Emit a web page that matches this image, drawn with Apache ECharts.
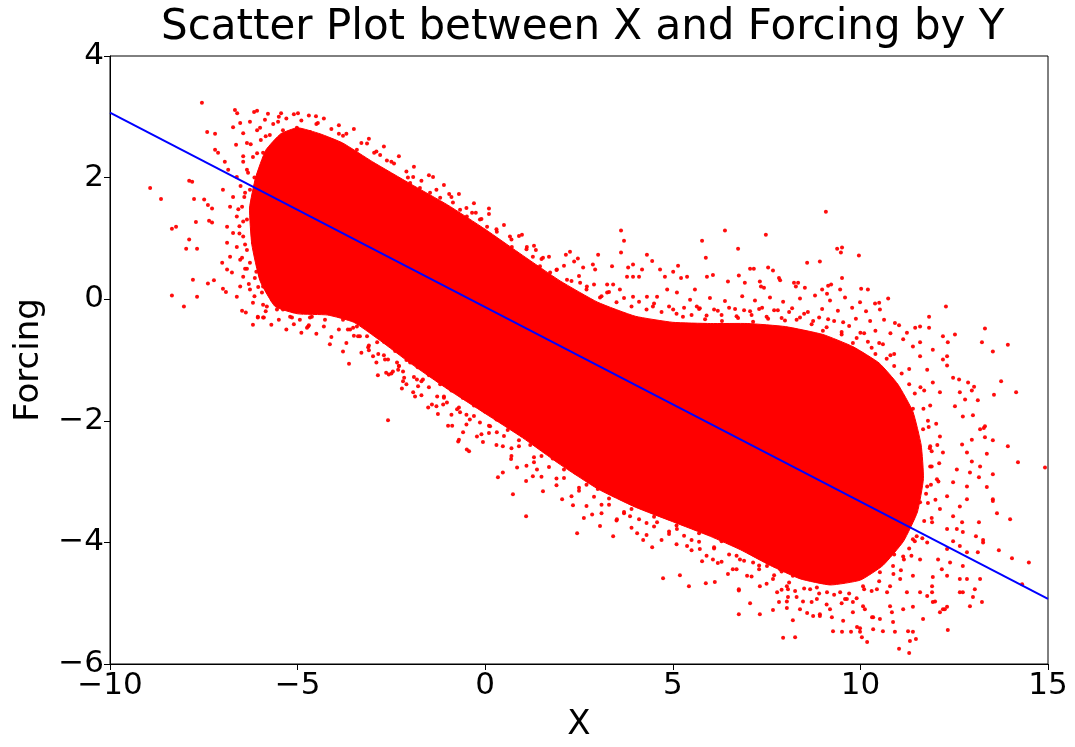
<!DOCTYPE html>
<html>
<head>
<meta charset="utf-8">
<script src="https://cdn.jsdelivr.net/npm/echarts@6/dist/echarts.min.js"></script>
<style>
  html, body { margin: 0; padding: 0; background: #fff; }
  #chart { width: 1075px; height: 747px; }
</style>
</head>
<body>
<div id="chart"></div>
<script>
// Axis ticks
const xTicks = [-10, -5, 0, 5, 10, 15];
const yTicks = [-6, -4, -2, 0, 2, 4];

// Outline of the solid, fully saturated part of the point cloud [X, Forcing]
const coreOutline = [
  [-5.60, -0.12], [-6.00, 0.30], [-6.22, 0.90], [-6.28, 1.50], [-6.12, 2.00], [-5.85, 2.45],
  [-5.45, 2.72], [-5.00, 2.82], [-4.40, 2.72], [-3.80, 2.57], [-3.00, 2.26], [-2.00, 1.90], [-1.00, 1.55],
  [0.00, 1.15], [1.00, 0.72], [2.00, 0.30], [3.00, -0.05], [4.00, -0.28], [5.00, -0.38],
  [6.00, -0.40], [7.00, -0.40], [8.00, -0.45], [9.00, -0.58], [9.80, -0.78], [10.50, -1.05],
  [11.00, -1.40], [11.40, -1.85], [11.62, -2.40], [11.68, -2.95], [11.52, -3.50], [11.15, -3.98],
  [10.60, -4.38], [10.00, -4.62], [9.20, -4.70], [8.40, -4.60], [7.60, -4.38], [6.80, -4.12],
  [6.00, -3.90], [5.00, -3.66], [4.00, -3.42], [3.00, -3.12], [2.00, -2.72], [1.00, -2.28],
  [0.00, -1.88], [-1.00, -1.48], [-2.00, -1.05], [-2.80, -0.68], [-3.50, -0.38], [-4.20, -0.26],
  [-5.00, -0.24]
];

// Points crowding the edge of the solid region
const pointsEdge = [
  [-5.3,2.97],[-5.1,3.04],[-4.9,2.94],[-4.7,3.02],[-4.5,2.88],[-4.3,2.97],[-4.1,2.80],[-3.9,2.86],[-3.7,2.72],[-3.5,2.80],
  [-3.3,2.57],[-3.1,2.64],[-2.9,2.43],[-2.7,2.51],[-2.5,2.26],[-2.3,2.35],[-2.1,2.10],[-1.9,2.18],[-1.7,1.95],[-1.5,2.04],
  [-1.3,1.80],[-1.1,1.88],[-0.9,1.68],[-0.7,1.73],[-0.5,1.50],[-0.3,1.58],[-0.1,1.32],[0.1,1.40],[0.3,1.15],[0.5,1.22],
  [0.7,0.98],[0.9,1.04],[1.1,0.82],[1.3,0.88],[1.5,0.66],[1.7,0.70],[1.9,0.48],[2.1,0.55],[2.3,0.30],[2.5,0.38],
  [2.7,0.16],[2.9,0.24],[3.1,0.05],[3.3,0.12],[3.5,-0.05],[3.7,0.02],[3.9,-0.12],[4.1,-0.04],[4.3,-0.17],[4.5,-0.07],
  [4.7,-0.21],[4.9,-0.12],[5.1,-0.24],[5.3,-0.14],[5.5,-0.26],[5.7,-0.16],[5.9,-0.27],[6.1,-0.17],[6.3,-0.26],[6.5,-0.14],
  [6.7,-0.28],[6.9,-0.18],[7.1,-0.26],[7.3,-0.16],[7.5,-0.29],[7.7,-0.18],[7.9,-0.31],[8.1,-0.21],[8.3,-0.34],[8.5,-0.24],
  [8.7,-0.41],[8.9,-0.30],[9.1,-0.46],[9.3,-0.36],[9.5,-0.54],[9.7,-0.44],[9.9,-0.64],[10.1,-0.56],[10.3,-0.80],[10.5,-0.72],
  [10.7,-0.98],[10.9,-0.90],[11.1,-1.22],[11.3,-1.15],[11.45,-1.55],[11.6,-1.45],
  [11.68,-1.80],[11.86,-1.75],[11.82,-2.10],[12.02,-2.05],[11.85,-2.45],[12.05,-2.40],[11.90,-2.75],[12.10,-2.70],
  [11.88,-3.05],[12.08,-3.00],[11.80,-3.35],[12.00,-3.30],[11.70,-3.65],[11.90,-3.60],[11.45,-3.98],[11.65,-3.93],
  [11.16,-4.28],[11.36,-4.22],[10.88,-4.52],[11.08,-4.46],
  [10.5,-4.64],[10.3,-4.80],[10.1,-4.77],[9.9,-4.92],[9.7,-4.84],[9.5,-5.00],[9.3,-4.86],[9.1,-5.02],[8.9,-4.84],[8.7,-4.98],
  [8.5,-4.76],[8.3,-4.90],[8.1,-4.66],[7.9,-4.78],[7.7,-4.54],[7.5,-4.68],[7.3,-4.44],[7.1,-4.56],[6.9,-4.30],[6.7,-4.44],
  [6.5,-4.20],[6.3,-4.32],[6.1,-4.08],[5.9,-4.22],[5.7,-3.99],[5.5,-4.13],[5.3,-3.89],[5.1,-4.03],[4.9,-3.82],[4.7,-3.96],
  [4.5,-3.74],[4.3,-3.88],[4.1,-3.62],[3.9,-3.76],[3.7,-3.50],[3.5,-3.64],[3.3,-3.38],[3.1,-3.52],[2.9,-3.25],[2.7,-3.40],
  [2.5,-3.10],[2.3,-3.24],[2.1,-2.94],[1.9,-3.06],[1.7,-2.76],[1.5,-2.92],[1.3,-2.60],[1.1,-2.74],[0.9,-2.42],[0.7,-2.58],
  [0.5,-2.25],[0.3,-2.40],[0.1,-2.08],[-0.1,-2.22],[-0.3,-1.92],[-0.5,-2.06],[-0.7,-1.78],[-0.9,-1.90],[-1.1,-1.62],[-1.3,-1.76],
  [-1.5,-1.45],[-1.7,-1.58],[-1.9,-1.28],[-2.1,-1.40],[-2.3,-1.10],[-2.5,-1.22],[-2.7,-0.92],[-2.9,-1.04],[-3.1,-0.76],[-3.3,-0.88],
  [-3.5,-0.60],[-3.7,-0.72],[-3.9,-0.50],[-4.1,-0.62],[-4.3,-0.45],[-4.5,-0.57],[-4.7,-0.43],[-4.9,-0.55],[-5.1,-0.41],[-5.3,-0.50],
  [-5.5,-0.34],[-5.7,-0.42],[-5.85,-0.20],
  [-6.15,0.05],[-6.30,0.25],[-6.35,0.50],[-6.48,0.68],[-6.40,0.90],[-6.55,1.08],[-6.45,1.28],[-6.58,1.48],[-6.42,1.68],
  [-6.52,1.86],[-6.32,2.08],[-6.45,2.26],[-6.08,2.40],[-6.25,2.55],[-5.85,2.68],[-6.00,2.82],[-5.65,2.88],[-5.50,3.00]
];

// Sparse points further out, grouped by area
const pointsLeft = [
  [-7.55,3.23],[-8.93,1.83],[-8.64,1.65],[-8.35,1.16],[-8.24,1.19],[-7.89,1.95],[-7.81,1.93],[-7.89,0.98],
  [-7.97,0.83],[-7.68,0.83],[-7.79,0.32],[-7.68,0.04],[-8.35,0.06],[-8.03,-0.12],[-7.41,2.75],[-7.20,2.72],
  [-7.20,2.46],[-7.12,2.41],[-7.76,1.65],[-7.49,1.64],[-7.39,1.55],[-7.28,1.49],[-7.71,1.27],[-7.36,1.29],
  [-7.28,1.26],[-7.39,0.26],[-7.23,0.31],[-7.01,0.60],[-6.88,0.49],[-6.99,0.17],[-6.91,0.12],[-6.62,0.04],
  [-6.48,-0.19],[-6.38,-0.22],[-6.19,-0.42],[-6.06,-0.30],[-5.90,-0.30],[-5.60,-0.02],[-5.39,-0.17],[-5.15,-0.30],
  [-4.67,-0.30],[-4.75,-0.47],[-4.14,-0.74],[-4.48,-0.17],[-4.22,-0.20],[-3.66,-0.50],[-3.39,-0.61],
  [-6.67,3.11],[-6.61,3.06],[-6.16,3.08],[-6.08,3.10],[-5.79,3.05],[-5.44,3.06],[-4.99,3.06],[-4.51,3.01],
  [-4.46,2.90],[-3.90,2.72],[-3.79,2.69],[-3.15,2.56],[-2.96,2.41],[-2.62,2.28],[-2.43,2.23],[-2.06,2.00],
  [-6.72,2.83],[-6.53,2.90],[-6.27,2.92],[-5.87,2.95],[-5.52,2.92],[-6.08,2.78],[-6.45,2.73],[-6.35,2.57],
  [-6.64,2.54],[-5.98,2.62],[-5.74,2.70],[-5.39,2.78],[-5.02,2.82],[-4.67,2.75],[-4.32,2.62],[-3.42,2.46],
  [-2.80,2.37],[-6.94,2.26],[-6.85,2.13],[-6.62,2.01],[-6.35,2.13],[-6.19,2.34],[-5.92,2.41],[-6.27,1.80],
  [-6.00,1.91],[-6.99,1.80],[-6.72,1.68],[-6.80,1.52],[-6.48,1.52],[-6.19,1.59],[-6.62,1.36],[-6.35,1.31],
  [-6.08,1.36],[-5.92,1.14],[-6.88,1.19],[-6.72,1.09],[-6.45,1.03],[-6.19,0.93],[-6.88,0.93],[-6.62,0.86],
  [-6.35,0.81],[-6.00,0.77],[-6.80,0.70],[-6.53,0.65],[-6.27,0.60],[-5.95,0.54],[-6.75,0.44],[-6.45,0.37],
  [-6.14,0.35],[-5.82,0.40],[-6.53,0.21],[-6.27,0.16],[-5.95,0.11],[-5.74,0.16],[-6.19,-0.06],[-5.82,-0.12],
  [-5.55,-0.17],[-5.82,0.86],[-5.82,1.36],[-5.82,1.80],[-5.74,2.08],[-5.74,2.34],[-5.55,2.51],
  [-5.95,1.70],[-6.05,1.05],[-5.70,0.65],[-6.10,0.45],[-5.90,1.55],[-6.15,2.00],[-5.65,1.20],[-5.70,0.30],
  [-6.40,1.75],[-6.55,1.20],[-6.40,0.50],[-6.05,0.20],[-5.85,2.20],[-6.45,2.35]
];

const pointsLowerLeft = [
  [-6.06,-0.29],[-5.92,-0.30],[-5.92,-0.09],[-5.68,-0.01],[-5.55,0.03],[-5.39,-0.12],[-5.20,-0.29],[-5.12,-0.20],
  [-4.94,-0.34],[-4.72,-0.45],[-4.62,-0.29],[-4.27,-0.34],[-3.79,-0.86],[-3.63,-1.06],[-3.60,-0.50],[-3.52,-0.47],
  [-3.34,-0.61],[-3.12,-0.79],[-3.10,-0.84],[-2.99,-0.94],[-2.86,-1.25],[-2.67,-0.99],[-2.59,-0.99],[-2.64,-1.21],
  [-2.57,-1.24],[-2.46,-1.19],[-2.32,-1.16],[-2.19,-1.19],[-2.59,-1.99],[-2.22,-1.47],[-2.16,-1.29],[-2.19,-1.35],
  [-1.92,-1.53],[-1.87,-1.60],[-1.82,-1.32],[-1.79,-1.43],[-1.52,-1.78],[-1.42,-1.73],[-1.26,-1.89],[-1.12,-1.73],
  [-0.99,-2.08],[-0.88,-2.08],[-0.72,-2.34],[-0.70,-2.31],[-0.59,-2.19],[-0.49,-2.47],[-0.43,-2.50],[-0.22,-2.26],
  [-0.06,-2.35],[0.34,-2.93],[0.47,-2.85],[0.74,-3.21],[0.69,-2.63],[0.85,-2.77],[1.09,-2.99],[1.09,-3.57],
  [1.27,-2.91],[1.38,-2.80],[1.54,-3.16],[0.13,-2.09],[0.31,-2.19],[0.47,-2.42],[-0.67,-1.86],[-0.41,-1.98],
  [-0.14,-2.03],[-1.28,-1.60],[-1.02,-1.70],[-0.75,-1.81],[-1.66,-1.32],[-2.00,-1.04],[-2.35,-1.04],[-2.88,-0.71],
  [-3.15,-0.61],[-3.42,-0.45],[-3.79,-0.34],[-4.06,-0.22],[-4.48,-0.12],[-4.86,-0.01],[-5.20,0.04],[-5.55,0.16],
  [-5.92,0.21],
  [-3.0,-0.50],[-2.7,-0.70],[-2.4,-0.85],[-2.1,-1.00],[-1.8,-1.12],[-1.5,-1.25],[-1.2,-1.40],[-0.9,-1.50],
  [-0.6,-1.62],[-0.3,-1.75],[0.0,-1.85],[0.3,-1.98],[0.6,-2.05],[-2.85,-0.90],[-2.3,-1.10],[-1.7,-1.35],
  [-1.1,-1.60],[-0.5,-1.90],[0.1,-2.20]
];

const pointsLower = [
  [2.45,-3.85],[3.41,-3.90],[4.05,-3.85],[4.21,-3.96],[4.45,-4.08],[4.74,-4.59],[5.19,-4.54],[5.43,-4.72],
  [5.88,-4.67],[6.12,-4.65],[6.76,-5.18],[7.06,-5.00],[6.47,-4.52],[6.76,-4.79],[7.94,-5.57],[8.20,-5.28],
  [7.67,-5.11],[8.04,-5.08],[8.07,-4.90],[7.83,-4.98],[5.78,-4.31],[6.20,-4.34],[2.05,-3.29],[2.34,-3.39],
  [2.63,-3.60],[2.85,-3.54],[3.06,-3.73],[3.51,-3.62],[3.86,-3.57],[4.58,-3.67],[5.11,-3.78],[5.38,-4.06],
  [5.72,-4.11],[6.07,-4.28],[6.60,-4.44],[6.98,-4.55],[7.32,-4.72],[7.67,-4.60],[8.04,-4.72],[8.20,-4.55],
  [6.79,-4.28],[7.14,-4.33],[7.51,-4.39],[7.86,-4.44],[8.20,-4.33],[7.32,-5.18],[8.26,-5.56],
  [0.6,-2.15],[0.9,-2.32],[1.2,-2.40],[1.5,-2.58],[1.8,-2.62],[2.1,-2.80],[2.4,-2.85],[2.7,-3.05],
  [3.0,-3.12],[3.3,-3.28],[3.6,-3.25],[3.9,-3.45],[4.2,-3.42],[4.5,-3.58],[4.8,-3.55],[5.1,-3.72],
  [5.4,-3.70],[5.7,-3.85],[6.0,-3.80],[6.3,-3.98],[6.6,-3.95],[6.9,-4.08],[7.2,-4.05],[7.5,-4.22],
  [7.8,-4.30],[0.7,-2.45],[1.3,-2.68],[1.9,-2.95],[2.5,-3.15],[3.1,-3.38],[3.7,-3.52],[4.3,-3.68],
  [4.9,-3.86],[5.5,-3.96],[6.1,-4.10],[6.7,-4.22],[7.3,-4.38],[7.9,-4.48]
];

const pointsLowerRight = [
  [14.92,-2.77],[14.20,-2.68],[13.93,-2.42],[13.32,-2.09],[13.37,-2.54],[13.53,-2.32],[13.99,-3.62],[13.69,-4.13],
  [14.04,-4.26],[14.49,-4.33],[14.31,-4.69],[13.53,-3.29],[13.53,-2.88],[13.27,-3.96],[13.08,-3.90],[13.24,-4.98],
  [12.92,-5.05],[13.05,-4.77],[12.65,-4.82],[12.84,-4.60],[12.33,-5.44],[12.25,-5.10],[12.12,-5.15],[11.30,-5.82],
  [11.03,-5.75],[11.32,-5.62],[11.40,-5.47],[10.60,-5.46],[10.34,-5.43],[9.99,-5.47],[9.91,-5.39],[9.27,-5.46],
  [9.51,-5.47],[6.76,-4.77],[8.07,-4.77],[8.39,-5.10],[8.84,-4.93],[8.92,-5.18],[9.80,-5.15],[10.07,-5.05],
  [10.34,-5.23],[10.84,-5.15],[11.14,-5.10],[11.59,-4.82],[11.91,-4.82],[11.93,-4.98],[12.31,-5.06],[11.24,-4.82],
  [10.71,-4.82],[9.46,-4.82],[9.64,-4.93],[9.11,-4.82],[7.78,-4.82],[8.66,-4.77],
  [13.64,-3.52],[13.53,-3.32],[13.37,-3.09],[13.16,-2.93],[13.19,-2.75],[13.16,-3.67],[13.27,-4.00],[13.13,-4.16],
  [13.19,-4.60],[13.00,-4.90],[12.73,-4.82],[12.65,-4.60],[12.73,-4.39],[12.84,-4.16],[12.65,-4.06],[12.73,-3.83],
  [12.71,-3.67],[12.57,-3.78],[12.39,-4.33],[12.31,-4.55],[12.20,-5.10],[11.99,-4.97],[11.78,-4.88],[11.91,-4.72],
  [11.67,-5.26],[11.48,-5.59],[11.27,-5.46],[10.87,-5.31],[10.92,-5.47],[10.52,-5.26],[10.18,-5.64],[10.04,-5.56],
  [9.99,-5.41],[9.75,-5.47],[9.54,-5.29],[9.24,-5.23],[8.92,-5.21],[8.74,-5.21],[8.58,-5.16],[8.04,-4.97],
  [8.26,-4.80],[8.47,-4.97],[8.84,-4.74],[9.19,-5.10],[9.59,-4.93],[9.80,-4.98],[10.12,-5.10],[10.31,-5.23],
  [10.79,-5.05],[11.40,-5.06],[11.93,-4.57],[12.17,-4.44],[12.07,-4.28],[12.31,-4.11],[12.47,-3.98],[12.31,-3.78],
  [12.47,-3.57],[12.65,-3.41],[12.84,-3.29],[12.84,-3.08],[12.92,-2.85],[12.97,-2.67],[12.84,-2.52],[12.97,-2.31],
  [13.19,-2.14],[12.71,-2.39],[12.57,-2.80],[12.47,-3.01],[12.31,-3.24],[12.12,-3.45],[12.20,-2.52],[12.12,-2.26],
  [12.04,-2.96],[11.91,-3.67],[11.78,-4.00],[11.59,-4.28],[11.40,-4.55],[11.06,-4.60],[10.79,-4.72],[10.44,-4.77],
  [10.07,-4.72],[11.59,-3.34],[11.78,-3.08],[11.86,-2.75],[11.86,-2.42],[11.67,-2.14],[11.51,-2.63],[11.40,-3.01],
  [11.38,-3.62],[11.40,-3.95],[11.14,-4.23],[10.87,-4.39],[10.52,-4.49],[10.18,-4.39],[9.80,-4.55],[9.46,-4.49],
  [9.11,-4.55],[8.74,-4.49],[8.39,-4.55],[8.04,-4.44],
  [11.4,-1.8],[11.5,-2.2],[11.45,-2.6],[11.6,-3.0],[11.35,-3.3],[11.7,-1.5],[11.8,-2.0],[11.9,-2.5],
  [11.75,-3.2],[11.3,-1.4],[11.2,-3.6],[11.0,-3.9],[11.5,-3.9],[10.9,-4.2],[11.3,-4.1]
];

const pointsUpper = [
  [-1.39,2.01],[-0.96,1.73],[0.10,1.49],[-0.35,1.42],[-0.25,1.42],[0.98,1.06],[1.11,0.86],[1.35,0.81],
  [2.15,0.73],[2.26,0.78],[2.37,0.62],[2.47,0.67],[3.01,0.73],[3.62,1.13],[3.70,0.96],[3.62,0.77],
  [4.31,0.73],[4.45,0.63],[2.61,0.52],[2.87,0.57],[2.93,0.49],[3.38,0.54],[3.78,0.37],[3.94,0.37],
  [4.10,0.37],[3.81,0.52],[3.94,0.57],[4.18,0.49],[4.66,0.49],[4.79,0.37],[5.01,0.45],[5.14,0.55],
  [5.22,0.35],[5.38,0.37],[5.59,0.16],[3.25,0.24],[3.41,0.24],[3.59,0.16],[3.25,0.11],[3.06,0.03],
  [2.71,0.21],[2.53,0.27],[2.18,0.32],[1.91,0.49],[1.73,0.44],[1.46,0.54],[1.54,0.68],[1.27,0.70],
  [0.85,0.68],[0.71,0.86],[0.39,0.86],[0.66,1.03],[0.31,1.11],[0.05,1.19],[-0.14,1.31],[-0.49,1.36],
  [-0.67,1.47],[-0.86,1.59],[-1.20,1.67],[-1.47,1.75],[-1.74,1.83],[-2.00,1.91],[-1.92,2.01],[3.94,0.04],
  [4.31,0.04],[4.58,0.04],[4.85,0.16],[5.11,0.11],[5.46,-0.01],[5.64,-0.12],[4.47,-0.12],[5.01,-0.17],
  [5.27,-0.29]
];

const pointsUpperRight = [
  [6.39,1.13],[7.48,1.06],[9.08,1.44],[5.78,0.96],[6.74,0.83],[5.88,0.68],[9.38,0.83],[9.48,0.77],
  [9.51,0.85],[8.58,0.60],[8.92,0.62],[9.96,0.72],[7.06,0.50],[7.16,0.50],[7.54,0.52],[7.67,0.47],
  [7.83,0.35],[7.86,0.31],[9.51,0.35],[6.76,0.39],[6.07,0.40],[5.91,0.37],[6.47,0.29],[6.92,0.27],
  [7.32,0.29],[7.35,0.21],[7.43,0.19],[8.23,0.27],[8.34,0.27],[8.28,0.21],[9.22,0.24],[9.14,0.22],
  [8.98,0.16],[9.11,0.09],[9.46,0.16],[10.02,0.17],[10.20,0.16],[8.52,0.19],[10.39,-0.07],[10.50,-0.06],
  [10.74,0.01],[12.28,-0.12],[11.83,-0.29],[13.32,-0.48],[13.93,-0.75],[13.24,-0.71],[13.53,-0.86],[12.52,-0.58],
  [13.75,-1.35],[14.15,-1.53],[13.56,-1.57],[13.13,-1.66],[13.29,-2.12],[11.59,-0.45],[11.46,-0.47],[11.83,-0.47],
  [11.24,-0.55],[11.03,-0.43],[12.20,-0.61],[12.33,-0.71],[12.31,-0.94],[12.31,-1.09],[12.47,-1.29],[12.63,-1.32],
  [12.87,-1.37],[12.97,-1.50],[13.03,-1.44],[12.79,-1.65],[13.00,-1.91],[13.32,-2.27],[12.52,-1.76],[12.73,-1.93],
  [11.93,-1.37],[12.12,-1.53],[11.78,-1.16],[11.59,-0.94],[11.40,-0.78],[11.14,-0.66],[11.59,-0.71],[11.93,-0.83],
  [12.20,-0.99],[12.65,-1.53],
  [5.99,0.02],[6.39,-0.03],[6.85,0.05],[7.19,-0.02],[7.59,0.03],[7.94,-0.04],[8.39,0.01],[8.79,0.06],
  [9.19,-0.02],[9.59,0.03],[9.99,-0.05],
  [5.72,-0.15],[6.20,-0.19],[6.66,-0.16],[7.06,-0.20],[7.38,-0.14],[7.80,-0.18],[8.18,-0.15],[8.60,-0.21],
  [8.98,-0.16],[9.40,-0.19],[9.78,-0.14],[10.15,-0.20],[10.52,-0.17],
  [5.86,-0.33],[6.31,-0.36],[6.74,-0.31],[7.14,-0.37],[7.54,-0.32],[7.99,-0.35],[8.39,-0.30],[8.74,-0.36],
  [9.14,-0.33],[9.54,-0.38],[9.88,-0.32],[10.26,-0.36],[10.63,-0.34],[10.92,-0.39],
  [5.9,-0.49],[6.5,-0.52],[7.0,-0.48],[7.5,-0.55],[8.0,-0.50],[8.5,-0.54],[9.0,-0.52],[9.5,-0.58],
  [10.0,-0.55],[10.4,-0.52],[10.8,-0.56],[9.8,-0.72],[10.2,-0.70],[10.6,-0.74],[10.4,-0.90],[10.8,-0.92],
  [10.9,-1.10]
];

// Least-squares trend line end points
const trendX = [-10, 15];
const trendY = [3.07, -4.93];

const scatterPoints = [].concat(pointsEdge, pointsLeft, pointsLowerLeft, pointsLower, pointsLowerRight, pointsUpper, pointsUpperRight);

const FONT = 'DejaVu Sans';
const fmt = v => (v < 0 ? '\u2212' + Math.abs(v) : String(v));

const chart = echarts.init(document.getElementById('chart'), null, { renderer: 'canvas' });

chart.setOption({
  backgroundColor: '#ffffff',
  animation: false,
  title: {
    text: 'Scatter Plot between X and Forcing by Y',
    left: 156,
    top: 2,
    textStyle: { fontFamily: FONT, fontSize: 42, fontWeight: 'normal', color: '#000' }
  },
  grid: {
    left: 110, right: 27, top: 56, bottom: 82,
    show: true, borderColor: '#000', borderWidth: 1, backgroundColor: 'transparent'
  },
  xAxis: {
    type: 'value',
    min: xTicks[0], max: xTicks[xTicks.length - 1], interval: 5,
    name: 'X', nameLocation: 'middle', nameGap: 44,
    nameTextStyle: { fontFamily: FONT, fontSize: 34, color: '#000' },
    axisLine: { show: true, onZero: false, lineStyle: { color: '#000', width: 1 } },
    axisTick: { show: true, inside: false, length: 6, lineStyle: { color: '#000' } },
    axisLabel: { fontFamily: FONT, fontSize: 31, color: '#000', margin: 6, formatter: fmt },
    splitLine: { show: false }
  },
  yAxis: {
    type: 'value',
    min: yTicks[0], max: yTicks[yTicks.length - 1], interval: 2,
    name: 'Forcing', nameLocation: 'middle', nameGap: 64,
    nameTextStyle: { fontFamily: FONT, fontSize: 34, color: '#000' },
    axisLine: { show: true, onZero: false, lineStyle: { color: '#000', width: 1 } },
    axisTick: { show: true, inside: false, length: 6, lineStyle: { color: '#000' } },
    axisLabel: { fontFamily: FONT, fontSize: 31, color: '#000', margin: 6, formatter: fmt },
    splitLine: { show: false }
  },
  series: [
    {
      type: 'custom',
      name: 'dense core',
      clip: true,
      data: coreOutline,
      encode: { x: 0, y: 1 },
      renderItem: function (params, api) {
        if (params.dataIndex !== 0) return null;
        const pts = coreOutline.map(p => api.coord(p));
        return {
          type: 'polygon',
          shape: { points: pts, smooth: 0.15 },
          style: { fill: '#ff0000', stroke: '#ff0000', lineWidth: 1 }
        };
      },
      z: 1
    },
    {
      type: 'scatter',
      name: 'points',
      data: scatterPoints,
      symbol: 'circle',
      symbolSize: 4,
      itemStyle: { color: '#ff0000', opacity: 0.95 },
      z: 2
    },
    {
      type: 'line',
      name: 'trend',
      data: trendX.map((x, i) => [x, trendY[i]]),
      showSymbol: false,
      lineStyle: { color: '#0000ff', width: 2 },
      z: 3
    }
  ]
});
</script>
</body>
</html>
